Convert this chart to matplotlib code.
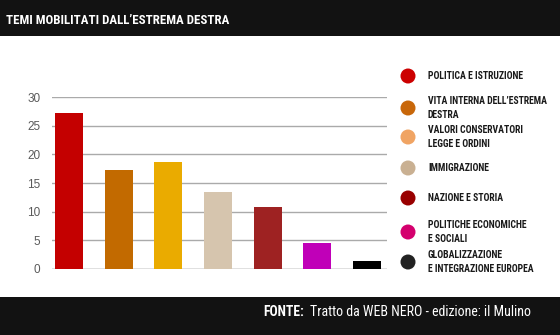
import matplotlib
matplotlib.use("Agg")
import matplotlib.pyplot as plt
from matplotlib.patches import Rectangle, Circle

# Data
categories = [
    "POLITICA E ISTRUZIONE",
    "VITA INTERNA DELL\u2019ESTREMA\nDESTRA",
    "VALORI CONSERVATORI\nLEGGE E ORDINI",
    "IMMIGRAZIONE",
    "NAZIONE E STORIA",
    "POLITICHE ECONOMICHE\nE SOCIALI",
    "GLOBALIZZAZIONE\nE INTEGRAZIONE EUROPEA",
]
values = [27.3, 17.2, 18.6, 13.5, 10.8, 4.5, 1.4]
bar_colors = ["#c40000", "#c26a00", "#eaab00", "#d6c5ae", "#9e2222", "#c000b8", "#000000"]
legend_colors = ["#cc0000", "#c8670a", "#f0a463", "#c9b092", "#990000", "#d4006e", "#222222"]
yticks = [0, 5, 10, 15, 20, 25, 30]

title = "TEMI MOBILITATI DALL\u2019ESTREMA DESTRA"
source_label = "FONTE:"
source_text = "Tratto da WEB NERO - edizione: il Mulino"

W, H = 560, 335
DPI = 100
fig = plt.figure(figsize=(W / DPI, H / DPI), dpi=DPI)
fig.patch.set_facecolor("white")

narrow = ["Roboto Condensed", "Roboto", "DejaVu Sans"]

def fx(px):
    return px / W

def fy(py):
    return 1 - py / H

# Header and footer bands
fig.patches.append(Rectangle((0, fy(36)), 1, 36 / H, transform=fig.transFigure,
                             facecolor="#121212", edgecolor="none", zorder=0))
fig.patches.append(Rectangle((0, 0), 1, (H - 297) / H, transform=fig.transFigure,
                             facecolor="#121212", edgecolor="none", zorder=0))
fig.text(fx(6), fy(21), title, color="white", fontsize=9.3, fontweight="bold",
         family=narrow, va="center", ha="left")
fig.text(fx(263), fy(312), source_label, color="white", fontsize=9.8, fontweight="bold",
         family=narrow, va="center", ha="left")
fig.text(fx(310), fy(312), source_text, color="white", fontsize=10,
         family=narrow, va="center", ha="left")

# Bar chart
ax = fig.add_axes([fx(52), fy(268.7), (387 - 52) / W, (268.7 - 97.3) / H])
x = list(range(len(values)))
ax.bar(x, values, width=0.56, color=bar_colors, zorder=3)
ax.set_ylim(0, 30)
ax.set_xlim(-0.34, 6.4)
ax.set_yticks(yticks)
ax.set_xticks([])
ax.grid(axis="y", color="#aaaaaa", linewidth=1.0, zorder=0)
ax.axhline(0, color="#aaaaaa", linewidth=1.0, zorder=2)
for s in ax.spines.values():
    s.set_visible(False)
ax.tick_params(axis="y", length=0, pad=8.5, labelsize=8.5, labelcolor="#5a5a5a")
for lbl in ax.get_yticklabels():
    lbl.set_family(["Liberation Sans", "DejaVu Sans"])
ax.set_facecolor("none")

# Legend: round markers in pixel units so they stay circular
circle_y = [76, 108, 137, 168, 198, 232, 262]
for cy, col, name in zip(circle_y, legend_colors, categories):
    fig.patches.append(Circle((408 / DPI, (H - cy) / DPI), 7.5 / DPI,
                              transform=fig.dpi_scale_trans,
                              facecolor=col, edgecolor="none"))
    fig.text(fx(428), fy(cy), name, color="#1a1a1a", fontsize=7, fontweight="bold",
             family=narrow, va="center", ha="left", linespacing=1.45)

fig.savefig("out.png", dpi=DPI)
